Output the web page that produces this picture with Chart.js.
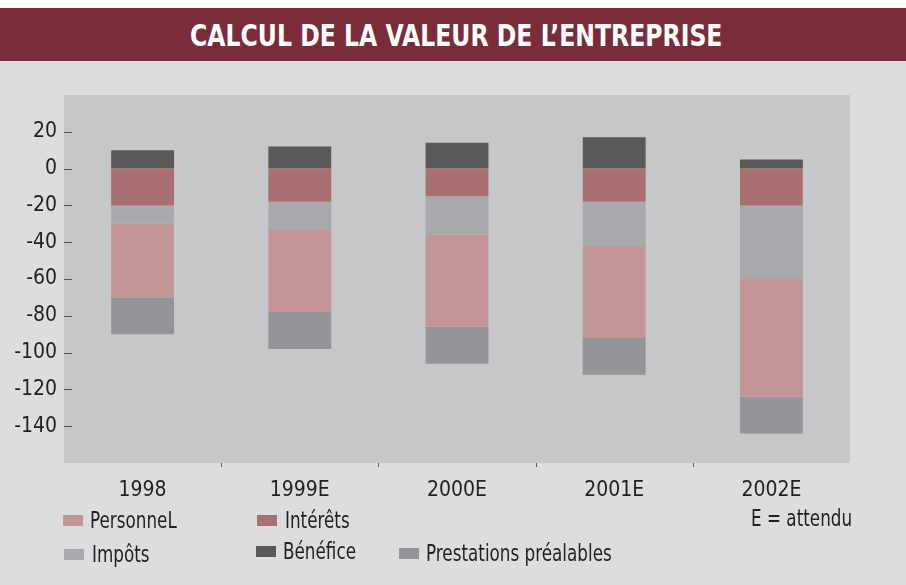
<!DOCTYPE html>
<html>
<head>
    <meta charset="UTF-8">
    <title>Calcul de la valeur de l'entreprise</title>
    <script src="https://cdn.jsdelivr.net/npm/chart.js"></script>
    <style>
        body { margin: 0; background: #dcdddf; width: 906px; height: 585px; position: relative; overflow: hidden;
               font-family: "DejaVu Sans", sans-serif; color: #231f20; }
        #bandeau { position: absolute; left: 0; top: 0; width: 906px; height: 8px; background: #ffffff; }
        #titre { position: absolute; left: 0; top: 8px; width: 906px; height: 53px; background: #7b2c3a; }
        #titre div { position: absolute; left: 190px; top: 1px; color: #fff; font-weight: bold; font-size: 30px;
                     line-height: 53px; white-space: nowrap; transform: scaleX(0.785); transform-origin: left center; }
        #zone { position: absolute; left: 0; top: 62px; width: 906px; height: 523px; }
        .leg { position: absolute; height: 30px; }
        .leg span { position: absolute; left: 0; width: 20px; height: 11px; }
        .leg b { position: absolute; top: 0; font-weight: normal; font-size: 23px; line-height: 30px; white-space: nowrap;
                 transform: scaleX(0.73); transform-origin: left center; }
        #note { position: absolute; left: 751px; top: 503px; font-size: 23px; line-height: 30px; white-space: nowrap;
                transform: scaleX(0.73); transform-origin: left center; }
    </style>
</head>
<body>
<div id="bandeau"></div>
<div id="titre"><div>CALCUL DE LA VALEUR DE L’ENTREPRISE</div></div>
<div id="zone"><canvas id="grafico" width="906" height="523"></canvas></div>
<div id="legende"></div>
<div id="note">E = attendu</div>

<script>
    // données
    const annees = ["1998", "1999E", "2000E", "2001E", "2002E"];
    const interets = [-20, -18, -15, -18, -20];
    const impots = [-10, -15, -21, -24, -40];
    const personnel = [-40, -45, -50, -50, -64];
    const prestations = [-20, -20, -20, -20, -20];
    const benefice = [10, 12, 14, 17, 5];

    const datasets = [
        { label: "Intérêts", data: interets, backgroundColor: "#a87070" },
        { label: "Impôts", data: impots, backgroundColor: "#a8a9ad" },
        { label: "PersonneL", data: personnel, backgroundColor: "#c49596" },
        { label: "Prestations préalables", data: prestations, backgroundColor: "#949599" },
        { label: "Bénéfice", data: benefice, backgroundColor: "#58595b" }
    ];

    // légende à la main : [x carré, y carré, décalage du texte]
    const places = {
        "PersonneL": [63, 515, 27],
        "Intérêts": [257, 515, 28],
        "Impôts": [64, 549, 28],
        "Bénéfice": [256, 546, 27],
        "Prestations préalables": [399, 548, 27]
    };
    const legende = document.getElementById("legende");
    datasets.forEach(ds => {
        const p = places[ds.label];
        const item = document.createElement("div");
        item.className = "leg";
        item.style.left = p[0] + "px";
        item.style.top = (p[1] - 10) + "px";
        item.innerHTML = `<span style="background:${ds.backgroundColor};top:10px"></span><b style="left:${p[2]}px">${ds.label}</b>`;
        legende.appendChild(item);
    });

    const police = { family: "DejaVu Sans Condensed, DejaVu Sans", style: "condensed", size: 21 };

    const fond = {
        id: "fond",
        beforeDraw(chart) {
            const { ctx, chartArea: a } = chart;
            ctx.save();
            ctx.fillStyle = "#c6c7c9";
            ctx.fillRect(a.left, a.top, a.right - a.left, a.bottom - a.top);
            ctx.restore();
        },
        afterDraw(chart) {
            const { ctx, chartArea: a, scales } = chart;
            ctx.save();
            ctx.strokeStyle = "#58595b";
            ctx.lineWidth = 1;
            ctx.beginPath();
            scales.y.ticks.forEach(t => {
                const y = Math.round(scales.y.getPixelForValue(t.value)) + 0.5;
                ctx.moveTo(a.left, y);
                ctx.lineTo(a.left + 8, y);
            });
            for (let i = 1; i < annees.length; i++) {
                const x = Math.round((scales.x.getPixelForValue(i - 1) + scales.x.getPixelForValue(i)) / 2) + 0.5;
                ctx.moveTo(x, a.bottom);
                ctx.lineTo(x, a.bottom + 4);
            }
            ctx.stroke();
            ctx.restore();
        }
    };

    new Chart(document.getElementById("grafico"), {
        type: 'bar',
        data: { labels: annees, datasets: datasets },
        options: {
            responsive: false,
            animation: false,
            layout: { padding: { top: 33, right: 56, left: 0, bottom: 0 } },
            plugins: { legend: { display: false }, tooltip: { enabled: false } },
            datasets: { bar: { barPercentage: 0.4, categoryPercentage: 1 } },
            scales: {
                x: {
                    stacked: true,
                    grid: { display: false, drawTicks: false },
                    border: { display: false },
                    ticks: { color: "#231f20", font: police, padding: 15 },
                    afterFit: s => { s.height = 122; }
                },
                y: {
                    stacked: true,
                    min: -160,
                    max: 40,
                    grid: { display: false, drawTicks: false },
                    border: { display: false },
                    ticks: { stepSize: 20, color: "#231f20", font: police, padding: 7 },
                    afterBuildTicks: s => { s.ticks = s.ticks.filter(t => t.value > -160 && t.value < 40); },
                    afterFit: s => { s.width = 64; }
                }
            }
        },
        plugins: [fond]
    });
</script>
</body>
</html>
